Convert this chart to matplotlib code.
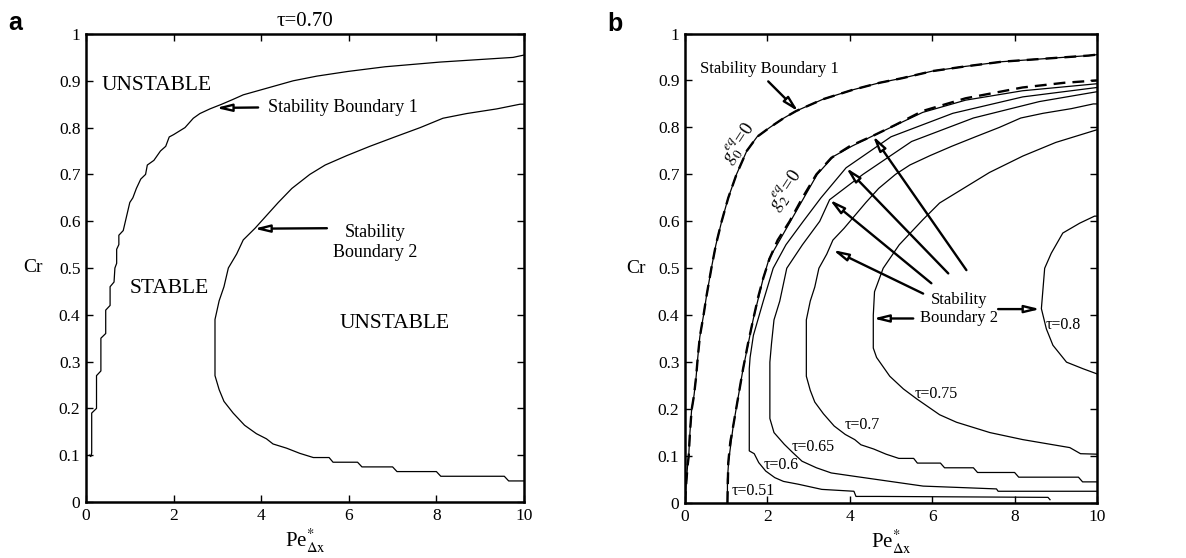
import matplotlib
matplotlib.use("Agg")
import matplotlib.pyplot as plt
from matplotlib.ticker import MultipleLocator, FuncFormatter

plt.rcParams["font.family"] = ["Liberation Serif", "DejaVu Serif"]
plt.rcParams["mathtext.fontset"] = "stix"

# ---------------- panel (a): tau = 0.70 ----------------
# Stability boundary 1 (Pe, Cr)
bound1_a_pe = [0.08, 0.11, 0.13, 0.13, 0.24, 0.24, 0.34, 0.34, 0.45, 0.45, 0.55, 0.55,
               0.64, 0.66, 0.70, 0.70, 0.75, 0.75, 0.85, 0.90, 0.95, 1.00, 1.07, 1.15,
               1.25, 1.36, 1.40, 1.55, 1.70, 1.82, 1.90, 2.00, 2.26, 2.45, 2.60, 2.83,
               3.10, 3.35, 3.59, 3.97, 4.35, 4.73, 5.27, 5.98, 6.83, 8.08, 9.75, 10.0]
bound1_a_cr = [0.100, 0.097, 0.105, 0.19, 0.20, 0.27, 0.28, 0.35, 0.36, 0.41, 0.42, 0.46,
               0.47, 0.50, 0.51, 0.54, 0.55, 0.57, 0.58, 0.60, 0.62, 0.64, 0.65, 0.67,
               0.69, 0.70, 0.72, 0.73, 0.75, 0.76, 0.78, 0.785, 0.80, 0.82, 0.83, 0.84,
               0.85, 0.86, 0.87, 0.88, 0.89, 0.90, 0.91, 0.92, 0.93, 0.94, 0.95, 0.955]

# Stability boundary 2 for tau = 0.70 (also drawn in panel b)
tau070_pe = [10.0, 9.91, 9.38, 8.69, 8.15, 7.63, 7.05, 6.48, 5.95, 5.46, 5.11, 4.70,
             4.39, 3.86, 3.59, 3.44, 3.25, 3.15, 3.04, 2.945, 2.945, 3.04, 3.15, 3.36,
             3.62, 3.89, 4.12, 4.27, 4.58, 4.88, 5.19, 5.55, 5.64, 6.20, 6.30, 7.00,
             7.10, 8.00, 8.10, 9.55, 9.65, 10.0]
tau070_cr = [0.85, 0.85, 0.84, 0.83, 0.82, 0.80, 0.78, 0.76, 0.74, 0.72, 0.70, 0.67,
             0.64, 0.585, 0.56, 0.53, 0.50, 0.46, 0.43, 0.39, 0.27, 0.24, 0.215, 0.19,
             0.164, 0.146, 0.135, 0.124, 0.115, 0.104, 0.095, 0.095, 0.085, 0.085, 0.075, 0.075,
             0.065, 0.065, 0.055, 0.055, 0.045, 0.045]

# ---------------- panel (b): several tau ----------------
g0_pe = [0.0, 0.02, 0.06, 0.09, 0.12, 0.16, 0.22, 0.27, 0.31, 0.36, 0.45, 0.52, 0.58,
         0.64, 0.75, 0.89, 1.05, 1.25, 1.50, 1.75, 2.06, 2.40, 2.70, 3.35, 4.07, 4.72,
         5.28, 6.01, 6.81, 7.70, 8.83, 9.80, 10.0]
g0_cr = [0.0, 0.03, 0.077, 0.10, 0.15, 0.198, 0.23, 0.269, 0.31, 0.354, 0.40, 0.44, 0.47,
         0.50, 0.55, 0.60, 0.65, 0.70, 0.75, 0.78, 0.80, 0.82, 0.835, 0.86, 0.88, 0.895,
         0.905, 0.92, 0.93, 0.94, 0.947, 0.953, 0.955]

g2_pe = [1.03, 1.05, 1.10, 1.17, 1.28, 1.41, 1.53, 1.66, 1.78, 1.90, 2.05, 2.25, 2.54,
         2.85, 3.19, 3.55, 4.00, 4.56, 5.10, 5.77, 6.81, 8.19, 9.20, 10.0]
g2_cr = [0.0, 0.086, 0.13, 0.164, 0.22, 0.286, 0.34, 0.393, 0.44, 0.479, 0.52, 0.56, 0.60,
         0.65, 0.70, 0.735, 0.76, 0.782, 0.805, 0.835, 0.862, 0.885, 0.895, 0.90]

tau051_pe = [1.03, 1.03, 1.06, 1.17, 1.41, 1.66, 1.90, 2.04, 2.56, 3.21, 3.60, 4.05,
             4.56, 5.77, 6.81, 8.19, 10.0]
tau051_cr = [0.0, 0.05, 0.09, 0.164, 0.286, 0.393, 0.479, 0.52, 0.60, 0.70, 0.738, 0.76,
             0.782, 0.832, 0.858, 0.878, 0.893]

tau060_pe = [10.0, 8.20, 6.50, 5.00, 3.91, 3.30, 2.87, 2.45, 2.14, 1.90, 1.66, 1.58, 1.56,
             1.56, 1.68, 1.79, 1.96, 2.18, 2.39, 2.75, 3.32, 4.10, 4.15, 4.70, 8.81, 8.86]
tau060_cr = [0.885, 0.865, 0.83, 0.78, 0.714, 0.65, 0.60, 0.55, 0.50, 0.43, 0.357, 0.31, 0.286,
             0.111, 0.105, 0.086, 0.068, 0.054, 0.046, 0.040, 0.029, 0.025, 0.014, 0.014, 0.012, 0.007]

tau065_pe = [10.0, 8.60, 7.00, 5.50, 4.32, 3.51, 3.27, 2.85, 2.47, 2.30, 2.16, 2.10, 2.06,
             2.06, 2.16, 2.41, 2.62, 2.84, 3.19, 3.55, 4.10, 5.78, 7.56, 7.60, 10.0]
tau065_cr = [0.876, 0.855, 0.82, 0.77, 0.70, 0.646, 0.60, 0.55, 0.50, 0.43, 0.39, 0.34, 0.30,
             0.18, 0.15, 0.125, 0.107, 0.089, 0.075, 0.064, 0.057, 0.036, 0.030, 0.025, 0.025]

tau075_pe = [10.0, 9.00, 8.20, 7.39, 6.18, 5.78, 5.20, 4.81, 4.60, 4.57, 4.57, 4.65, 4.81,
             4.97, 5.30, 5.62, 6.18, 6.59, 7.40, 8.20, 9.34, 9.60, 10.0]
tau075_cr = [0.795, 0.768, 0.739, 0.704, 0.639, 0.604, 0.55, 0.50, 0.45, 0.40, 0.33, 0.31, 0.29,
             0.27, 0.243, 0.222, 0.188, 0.172, 0.150, 0.135, 0.118, 0.105, 0.104]

tau080_pe = [10.0, 9.94, 9.58, 9.17, 8.89, 8.73, 8.69, 8.65, 8.77, 8.93, 9.26, 9.66, 10.0]
tau080_cr = [0.611, 0.611, 0.596, 0.575, 0.532, 0.50, 0.457, 0.414, 0.371, 0.336, 0.30, 0.286, 0.275]

# tau labels in panel b: text, Pe, Cr
tau_labels = ["τ=0.51", "τ=0.6", "τ=0.65", "τ=0.7", "τ=0.75", "τ=0.8"]
tau_label_pe = [1.13, 1.90, 2.59, 3.88, 5.58, 8.75]
tau_label_cr = [0.025, 0.082, 0.12, 0.166, 0.232, 0.38]

X_TICKS = [0, 2, 4, 6, 8, 10]
LINE_W = 0.9


def style_axes(ax):
    ax.set_xlim(0, 10)
    ax.set_ylim(0, 1)
    ax.set_xticks(X_TICKS)
    ax.yaxis.set_major_locator(MultipleLocator(0.1))
    ax.yaxis.set_major_formatter(FuncFormatter(lambda v, p: f"{v:g}"))
    ax.tick_params(direction="in", top=True, right=True, length=5, width=1.0,
                   labelsize=12.5, pad=4)
    for s in ax.spines.values():
        s.set_linewidth(1.8)
    ax.text(-0.12, 0.5, "Cr", transform=ax.transAxes, ha="center", va="center",
            fontsize=14)
    ax.text(0.5, -0.055, r"Pe$^{*}_{\mathrm{\Delta x}}$", transform=ax.transAxes,
            ha="center", va="top", fontsize=15)


def pointer(ax, tail, tip):
    ax.annotate("", xy=tip, xytext=tail,
                arrowprops=dict(arrowstyle="-|>,head_length=0.9,head_width=0.22",
                                lw=1.7, fc="white", ec="black", mutation_scale=10,
                                shrinkA=0, shrinkB=0))


fig = plt.figure(figsize=(11.86, 5.58), dpi=100)
ax_a = fig.add_axes([86 / 1186, 56 / 558, 438 / 1186, 468 / 558])
ax_b = fig.add_axes([685 / 1186, 55 / 558, 412 / 1186, 469.5 / 558])

# ---- panel a ----
style_axes(ax_a)
ax_a.plot(bound1_a_pe, bound1_a_cr, color="black", lw=LINE_W)
ax_a.plot(tau070_pe, tau070_cr, color="black", lw=LINE_W)
ax_a.set_title("τ=0.70", fontsize=15, pad=6)
ax_a.text(0.35, 0.89, "UNSTABLE", fontsize=15.5, va="center", ha="left")
ax_a.text(1.9, 0.457, "STABLE", fontsize=15.5, va="center", ha="center")
ax_a.text(7.05, 0.382, "UNSTABLE", fontsize=15.5, va="center", ha="center")
ax_a.text(4.16, 0.842, "Stability Boundary 1", fontsize=13, va="center", ha="left")
ax_a.text(6.6, 0.555, "Stability\nBoundary 2", fontsize=13, va="center", ha="center",
          linespacing=1.25)
pointer(ax_a, (3.93, 0.843), (2.97, 0.842))
pointer(ax_a, (5.5, 0.585), (3.84, 0.584))

# ---- panel b ----
style_axes(ax_b)
for pe, cr in [(g0_pe, g0_cr), (tau051_pe, tau051_cr), (tau060_pe, tau060_cr),
               (tau065_pe, tau065_cr), (tau070_pe, tau070_cr), (tau075_pe, tau075_cr),
               (tau080_pe, tau080_cr)]:
    ax_b.plot(pe, cr, color="black", lw=LINE_W)
for pe, cr in [(g0_pe, g0_cr), (g2_pe, g2_cr)]:
    ax_b.plot(pe, cr, color="black", lw=1.7, dashes=(5, 3))

for t, x, y in zip(tau_labels, tau_label_pe, tau_label_cr):
    ax_b.text(x, y, t, fontsize=11.5, va="center", ha="left")

ax_b.text(0.36, 0.925, "Stability Boundary 1", fontsize=12, va="center", ha="left")
pointer(ax_b, (2.02, 0.898), (2.75, 0.834))
ax_b.text(1.30, 0.765, r"$g_0^{eq}$=0", fontsize=13.5, rotation=57, va="center", ha="center")
ax_b.text(2.45, 0.665, r"$g_2^{eq}$=0", fontsize=13.5, rotation=57, va="center", ha="center")

ax_b.text(6.65, 0.413, "Stability\nBoundary 2", fontsize=12, va="center", ha="center",
          linespacing=1.2)
pointer(ax_b, (6.83, 0.496), (4.56, 0.782))
pointer(ax_b, (6.39, 0.489), (3.91, 0.714))
pointer(ax_b, (5.98, 0.468), (3.51, 0.646))
pointer(ax_b, (5.78, 0.446), (3.59, 0.539))
pointer(ax_b, (5.54, 0.393), (4.57, 0.393))
pointer(ax_b, (7.60, 0.413), (8.62, 0.413))

fig.text(8 / 1186, 1 - 30 / 558, "a", fontsize=18, fontweight="bold",
         family="Liberation Sans", va="baseline", ha="left")
fig.text(607 / 1186, 1 - 31 / 558, "b", fontsize=18, fontweight="bold",
         family="Liberation Sans", va="baseline", ha="left")

fig.savefig("out.png", dpi=100)
